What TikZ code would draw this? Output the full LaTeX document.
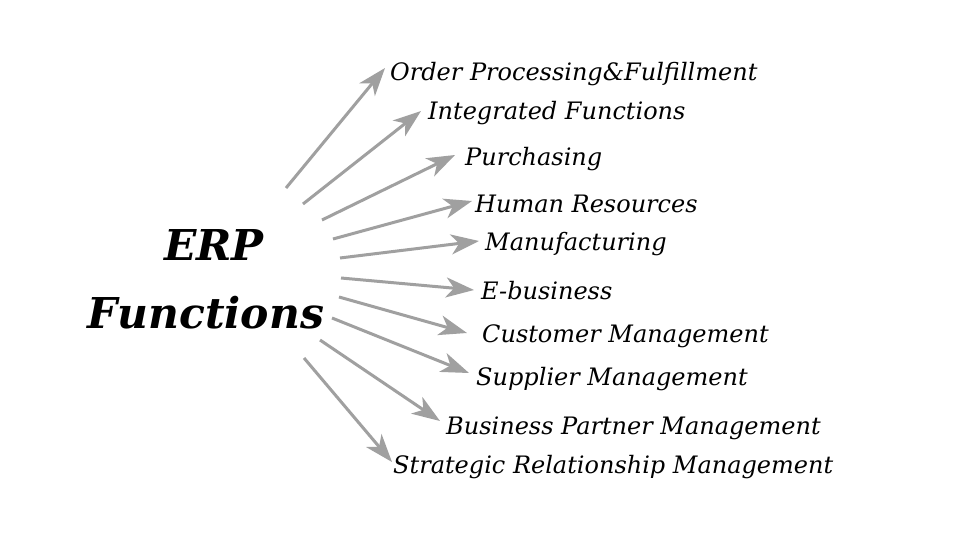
\documentclass[tikz,border=0pt]{standalone}
\usepackage{fontspec}
\setmainfont{DejaVu Serif}
\usetikzlibrary{arrows.meta}
\definecolor{arrowgray}{HTML}{A0A0A0}
\tikzset{
  lbl/.style={anchor=west, inner sep=0pt, font=\fontsize{24}{28}\selectfont\itshape, text=black},
  big/.style={anchor=center, inner sep=0pt, font=\fontsize{42.5}{48}\selectfont\bfseries\itshape, text=black},
  arr/.style={draw=arrowgray, line width=3pt, -{Stealth[length=28pt,width=20pt,inset=8pt]}, fill=arrowgray},
}
\begin{document}
\begin{tikzpicture}[x=1pt,y=-1pt]
\useasboundingbox[fill=white] (0,0) rectangle (960,540);
\node[big] (erp) at (214,245) {ERP};
\node[big] (fun) at (206,313) {Functions};
\node[lbl] (l1) at (390,74) {Order Processing\&Fulfillment};
\node[lbl] (l2) at (428,113) {Integrated Functions};
\node[lbl] (l3) at (465,159) {Purchasing};
\node[lbl] (l4) at (475,204) {Human Resources};
\node[lbl] (l5) at (485,244) {Manufacturing};
\node[lbl] (l6) at (481,291) {E-business};
\node[lbl] (l7) at (482,336) {Customer Management};
\node[lbl] (l8) at (476,379) {Supplier Management};
\node[lbl] (l9) at (446,428) {Business Partner Management};
\node[lbl] (l10) at (393,467) {Strategic Relationship Management};
\coordinate (s1) at (286,188); \coordinate (t1) at (385,68);
\coordinate (s2) at (303,204); \coordinate (t2) at (421,111);
\coordinate (s3) at (322,220); \coordinate (t3) at (455,155);
\coordinate (s4) at (333,239); \coordinate (t4) at (472,201);
\coordinate (s5) at (340,258); \coordinate (t5) at (479,241);
\coordinate (s6) at (341,278); \coordinate (t6) at (474,290);
\coordinate (s7) at (339,297); \coordinate (t7) at (467,333);
\coordinate (s8) at (332,318); \coordinate (t8) at (469,373);
\coordinate (s9) at (320,340); \coordinate (t9) at (440,421);
\coordinate (s10) at (304,358); \coordinate (t10) at (392,462);
\foreach \i in {1,...,10} {\draw[arr] (s\i) -- (t\i);}
\end{tikzpicture}
\end{document}
